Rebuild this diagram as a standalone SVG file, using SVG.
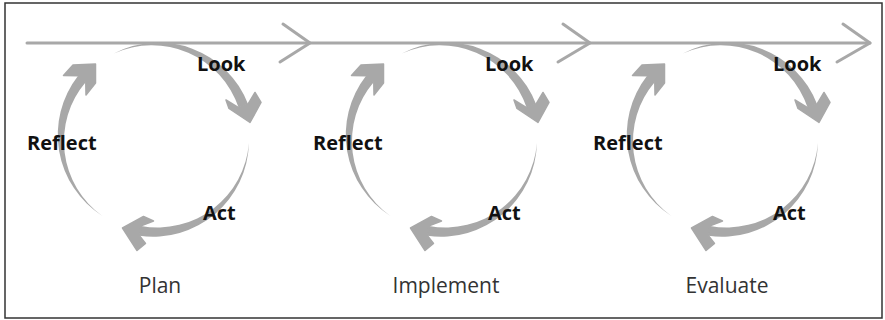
<svg xmlns="http://www.w3.org/2000/svg" width="885" height="320" viewBox="0 0 885 320">
<style>
.bd{fill:#a8a8a8}
.hd{fill:#a8a8a8;stroke:#a8a8a8;stroke-width:1.5;stroke-linejoin:round}
.tl{fill:none;stroke:#a8a8a8;stroke-width:3;stroke-linecap:round;stroke-linejoin:round}
.b{font-family:"Open Sans","DejaVu Sans",sans-serif;font-weight:700;font-size:20px;fill:#111}
.r{font-family:"Open Sans","DejaVu Sans",sans-serif;font-size:21px;fill:#333}
</style>
<defs>
<g id="cycle">
<path class="bd" d="M 113.8 53.5 A 96 96 0 0 1 248.0 104.1 L 238.6 107.6 A 91.5 91.5 0 0 0 113.8 53.5 Z"/>
<polygon class="hd" points="248.0,104.1 255,92.5 261,102.5 250,122.5 229,108.5 226,100 238.6,107.6"/>
<path class="bd" d="M 248.9 142.9 A 96 96 0 0 1 139.5 235.8 L 141.1 225.9 A 91.5 91.5 0 0 0 248.9 142.9 Z"/>
<polygon class="hd" points="139.5,235.8 145.5,243.5 137,250.5 122.5,228 143.5,216.5 153.5,221 141.1,225.9"/>
<path class="bd" d="M 102.4 215.9 A 96 96 0 0 1 78.1 75.7 L 85.8 82.0 A 91.5 91.5 0 0 0 102.4 215.9 Z"/>
<polygon class="hd" points="78.1,75.7 63.5,75.5 73,65 95.5,64 95.5,83 86,95 85.8,82"/>
</g>
</defs>
<rect x="5" y="3" width="877" height="315" fill="#fff" stroke="#333" stroke-width="1.5"/>
<g id="connectors">
<path class="tl" d="M27 43 H870"/>
<polyline class="tl" points="283,24 310,43 280,62"/>
<polyline class="tl" points="563,24 590,43 558,62"/>
<polyline class="tl" points="843,24 870,43 837,62"/>
</g>
<g id="plan">
<use href="#cycle"/>
<text class="b" x="197" y="71">Look</text>
<text class="b" x="27" y="150">Reflect</text>
<text class="b" x="203" y="220">Act</text>
<text class="r" x="160" y="293" text-anchor="middle">Plan</text>
</g>
<g id="implement">
<use href="#cycle" transform="translate(288,0)"/>
<text class="b" x="485" y="71">Look</text>
<text class="b" x="313" y="150">Reflect</text>
<text class="b" x="488" y="220">Act</text>
<text class="r" x="446" y="293" text-anchor="middle">Implement</text>
</g>
<g id="evaluate">
<use href="#cycle" transform="translate(569,0)"/>
<text class="b" x="773" y="71">Look</text>
<text class="b" x="593" y="150">Reflect</text>
<text class="b" x="773" y="220">Act</text>
<text class="r" x="727" y="293" text-anchor="middle">Evaluate</text>
</g>
</svg>
